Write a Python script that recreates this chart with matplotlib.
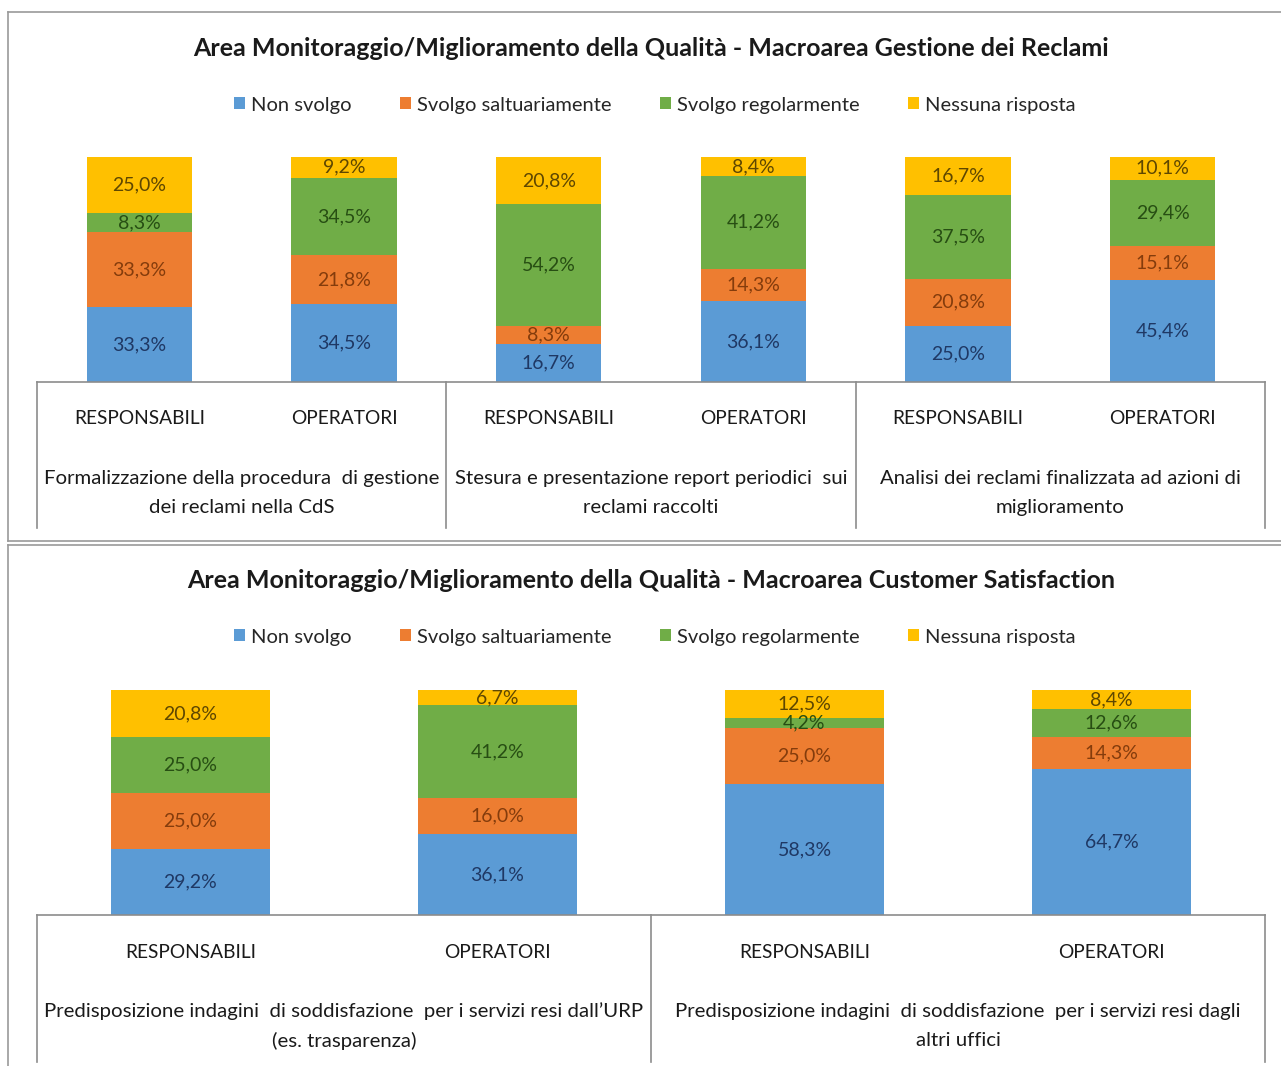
import numpy as np
import matplotlib.pyplot as plt
from matplotlib.patches import Patch
from matplotlib.lines import Line2D

plt.rcParams['font.family'] = ['Lato', 'DejaVu Sans']

W, H = 1281, 1066

series = ['Non svolgo', 'Svolgo saltuariamente', 'Svolgo regolarmente', 'Nessuna risposta']
colors = ['#5B9BD5', '#ED7D31', '#70AD47', '#FFC000']
text_colors = ['#1F3864', '#843C0C', '#274E13', '#5E4700']
roles = ['RESPONSABILI', 'OPERATORI']

# Gestione dei Reclami
title_top = 'Area Monitoraggio/Miglioramento della Qualità - Macroarea Gestione dei Reclami'
groups_top = ['Formalizzazione della procedura  di gestione\ndei reclami nella CdS',
              'Stesura e presentazione report periodici  sui\nreclami raccolti',
              'Analisi dei reclami finalizzata ad azioni di\nmiglioramento']
non_svolgo_top = [33.3, 34.5, 16.7, 36.1, 25.0, 45.4]
saltuari_top = [33.3, 21.8, 8.3, 14.3, 20.8, 15.1]
regolari_top = [8.3, 34.5, 54.2, 41.2, 37.5, 29.4]
nessuna_top = [25.0, 9.2, 20.8, 8.4, 16.7, 10.1]

# Customer Satisfaction
title_bot = 'Area Monitoraggio/Miglioramento della Qualità - Macroarea Customer Satisfaction'
groups_bot = ['Predisposizione indagini  di soddisfazione  per i servizi resi dall\u2019URP\n(es. trasparenza)',
              'Predisposizione indagini  di soddisfazione  per i servizi resi dagli\naltri uffici']
non_svolgo_bot = [29.2, 36.1, 58.3, 64.7]
saltuari_bot = [25.0, 16.0, 25.0, 14.3]
regolari_bot = [25.0, 41.2, 4.2, 12.6]
nessuna_bot = [20.8, 6.7, 12.5, 8.4]


def fx(px):
    return px / W


def fy(py):
    return 1 - py / H


def pct(v):
    return ('%.1f%%' % v).replace('.', ',')


def draw_panel(fig, data, groups, title, y_title, y_leg, y_top, y_base, y_end):
    n = len(data[0])
    ax = fig.add_axes([fx(37), fy(y_base), fx(1265) - fx(37), (y_base - y_top) / H])
    x = np.arange(n)
    bottom = np.zeros(n)
    for vals, col, tcol in zip(data, colors, text_colors):
        vals = np.array(vals)
        ax.bar(x, vals, width=0.515, bottom=bottom, color=col, linewidth=0)
        for xi, b, v in zip(x, bottom, vals):
            ax.text(xi, b + v / 2, pct(v), ha='center', va='center',
                    fontsize=14, color=tcol)
        bottom += vals
    ax.set_xlim(-0.5, n - 0.5)
    ax.set_ylim(0, 100)
    ax.axis('off')

    # table below the bars
    upp = 100.0 / (y_base - y_top)  # data units per pixel
    ax.plot([-0.5, n - 0.5], [0, 0], color='#8c8c8c', lw=1.2, clip_on=False)
    per_group = n // len(groups)
    for k in range(len(groups) + 1):
        xv = -0.5 + k * per_group
        ax.plot([xv, xv], [0, -(y_end - y_base) * upp], color='#8c8c8c', lw=1.2, clip_on=False)
    for xi in x:
        ax.text(xi, -(419 - 382) * upp, roles[xi % 2], ha='center', va='center',
                fontsize=13.8, color='#1a1a1a')
    for g, label in enumerate(groups):
        xc = -0.5 + (g + 0.5) * per_group
        ax.text(xc, -(493 - 382) * upp, label, ha='center', va='center',
                fontsize=14.7, color='#1a1a1a', linespacing=1.8)

    fig.text(fx(651), fy(y_title), title, ha='center', va='center',
             fontsize=18, fontweight='bold', color='#1a1a1a')
    handles = [Patch(facecolor=c, edgecolor='none') for c in colors]
    fig.legend(handles, series, loc='center', bbox_to_anchor=(fx(655), fy(y_leg)),
               ncol=4, frameon=False, fontsize=14.5, handlelength=0.55, handleheight=0.55,
               handletextpad=0.3, columnspacing=2.4, labelcolor='#262626')
    return ax


fig = plt.figure(figsize=(W / 100, H / 100), dpi=100)

# panel frames
for seg in [((8, 1281), (12, 12)), ((8, 8), (12, 541)), ((8, 1281), (541, 541)),
            ((8, 1281), (545, 545)), ((8, 8), (545, 1066))]:
    fig.add_artist(Line2D([fx(seg[0][0]), fx(seg[0][1])], [fy(seg[1][0]), fy(seg[1][1])],
                          color='#9a9a9a', lw=1.2))

draw_panel(fig, [non_svolgo_top, saltuari_top, regolari_top, nessuna_top], groups_top,
           title_top, 48, 105, 157, 382, 528)
draw_panel(fig, [non_svolgo_bot, saltuari_bot, regolari_bot, nessuna_bot], groups_bot,
           title_bot, 581, 637, 690, 915, 1062)

fig.savefig('out.png', dpi=100, facecolor='white')
